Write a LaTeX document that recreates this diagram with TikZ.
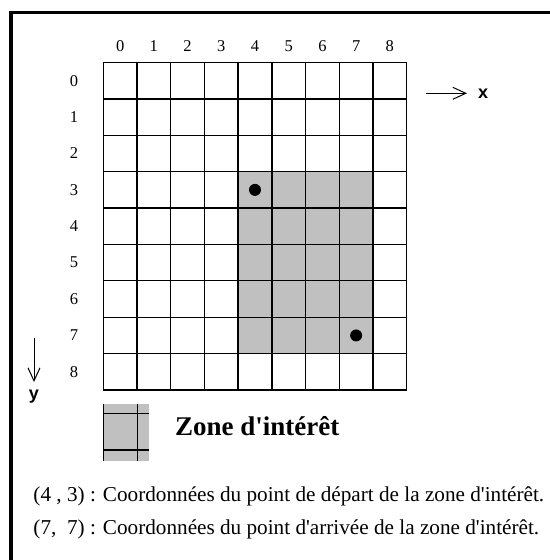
\documentclass[tikz,border=0pt]{standalone}
\usepackage{fontspec}
\setmainfont{Liberation Serif}[Ligatures=TeXOff]
\newfontfamily\axisfont{Liberation Sans}
\usetikzlibrary{arrows.meta}
\def\GX{103.3}
\def\GY{62.5}
\def\CW{33.71}
\def\CH{36.39}
\tikzset{
  gridline/.style={line width=1.3bp, black},
  framel/.style={line width=3.3bp, black},
  zone/.style={fill=zonegrey, draw=none},
  lab/.style={inner sep=0pt, font=\fontsize{16.5bp}{19bp}\selectfont},
  axlab/.style={inner sep=0pt, font=\axisfont\bfseries\fontsize{18bp}{21bp}\selectfont},
  axarrow/.style={line width=1bp, -{Straight Barb[length=13bp,width=12bp,line width=1bp]}},
  dot/.style={fill=black},
  legtext/.style={inner sep=0pt, anchor=base west, font=\bfseries\fontsize{27bp}{32bp}\selectfont},
  note/.style={inner sep=0pt, anchor=base west, font=\fontsize{21.2bp}{25bp}\selectfont}
}
\definecolor{zonegrey}{RGB}{192,192,192}
\begin{document}
\begin{tikzpicture}[x=1bp,y=-1bp]
\useasboundingbox (0,0) rectangle (550,560);
\clip (0,0) rectangle (550,560);
% frame
\draw[framel] (11,600) -- (11,12.3) -- (600,12.3);
% zone of interest
\fill[zone] ({\GX+4*\CW},{\GY+3*\CH}) rectangle ({\GX+8*\CW},{\GY+8*\CH});
% grid
\foreach \i in {0,...,9} {
  \draw[gridline] ({\GX+\i*\CW},\GY) -- ({\GX+\i*\CW},{\GY+9*\CH});
  \draw[gridline] (\GX,{\GY+\i*\CH}) -- ({\GX+9*\CW},{\GY+\i*\CH});
}
% labels
\foreach \i in {0,...,8} {
  \node[lab] (c\i) at ({\GX+(\i+0.5)*\CW},46.3) {\i};
  \node[lab] (r\i) at (74,{\GY+(\i+0.5)*\CH}) {\i};
}
% points
\fill[dot] ({\GX+4.5*\CW},{\GY+3.5*\CH}) circle[radius=6bp];
\fill[dot] ({\GX+7.5*\CW},{\GY+7.5*\CH}) circle[radius=6bp];
% axes
\node[axlab, anchor=west] (xl) at (478,94) {x};
\coordinate (xs) at (426,93.3);
\coordinate (xe) at (467,93.3);
\draw[axarrow] (xs) -- (xe);
\coordinate (ys) at (34,338.3);
\coordinate (ye) at (34,382);
\draw[axarrow] (ys) -- (ye);
\node[axlab] (yl) at (34,397) {y};
% legend
\fill[zone] (103.3,404) rectangle (149.3,461);
\draw[gridline] (103.3,404) -- (103.3,461);
\draw[gridline] (137.3,404) -- (137.3,461);
\draw[gridline] (103.3,413.3) -- (149.3,413.3);
\draw[gridline] (103.3,450) -- (149.3,450);
\node[legtext] (zt) at (175,435) {Zone d'intérêt};
\node[note] (n1) at (33.3,501) {(4 , 3) : Coordonnées du point de départ de la zone d'intérêt.};
\node[note] (n2) at (33.3,534.5) {(7,\ \ 7) : Coordonnées du point d'arrivée de la zone d'intérêt.};
\end{tikzpicture}
\end{document}
